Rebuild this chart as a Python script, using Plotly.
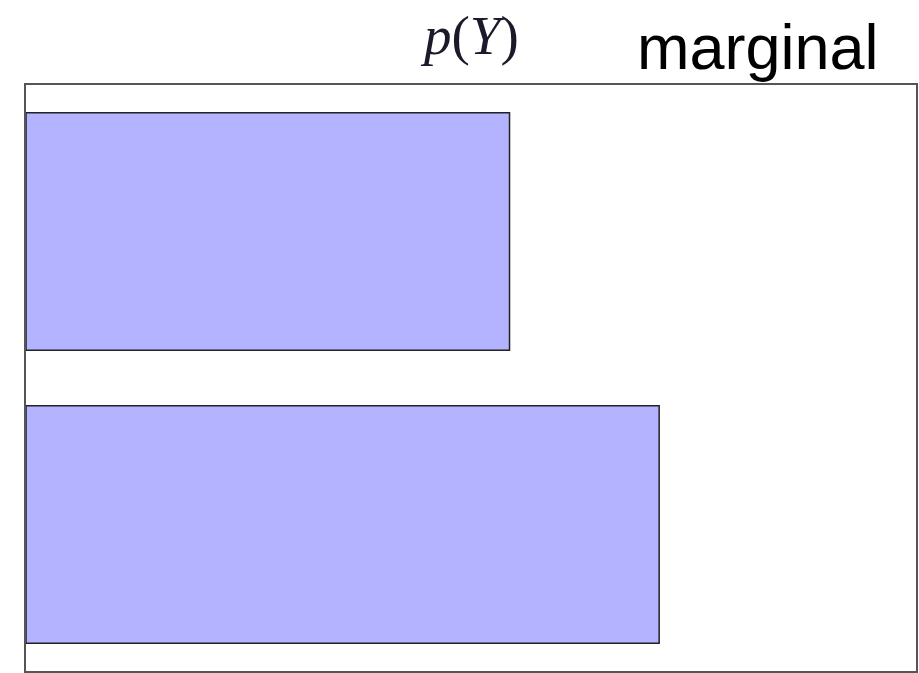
import plotly.graph_objects as go

# Marginal distribution p(Y) over two outcomes
outcomes = [0, 1]
probabilities = [0.433, 0.567]

W, H = 919, 673
LEFT, RIGHT, TOP, BOTTOM = 26, 916, 85, 671

fig = go.Figure(
    go.Bar(
        x=probabilities,
        y=outcomes,
        orientation="h",
        width=0.81,
        marker=dict(color="#b3b3ff", line=dict(color="#222222", width=1.5)),
        hoverinfo="skip",
    )
)

plot_h = BOTTOM - TOP


def ypaper(px):
    return (BOTTOM - px) / plot_h


def xpaper(px):
    return (px - LEFT) / (RIGHT - LEFT)


fig.update_layout(
    width=W,
    height=H,
    margin=dict(l=LEFT, r=W - RIGHT, t=TOP, b=H - BOTTOM, pad=0),
    paper_bgcolor="white",
    plot_bgcolor="white",
    showlegend=False,
    xaxis=dict(
        range=[0, 0.797],
        showgrid=False,
        zeroline=False,
        showticklabels=False,
        ticks="",
        showline=True,
        mirror=True,
        linecolor="#555555",
        linewidth=2,
    ),
    yaxis=dict(
        range=[1.5, -0.5],
        showgrid=False,
        zeroline=False,
        showticklabels=False,
        ticks="",
        showline=True,
        mirror=True,
        linecolor="#555555",
        linewidth=2,
    ),
    annotations=[
        dict(
            text="<i>p</i>(<i>Y</i>)",
            xref="paper",
            yref="paper",
            x=xpaper(469),
            y=ypaper(35),
            xanchor="center",
            yanchor="middle",
            showarrow=False,
            font=dict(family="Liberation Serif", size=55, color="#1a1a2a"),
        ),
        dict(
            text="marginal",
            xref="paper",
            yref="paper",
            x=xpaper(758),
            y=ypaper(47),
            xanchor="center",
            yanchor="middle",
            showarrow=False,
            font=dict(family="Liberation Sans", size=63, color="#000000"),
        ),
    ],
)

fig.write_html("out.html")
